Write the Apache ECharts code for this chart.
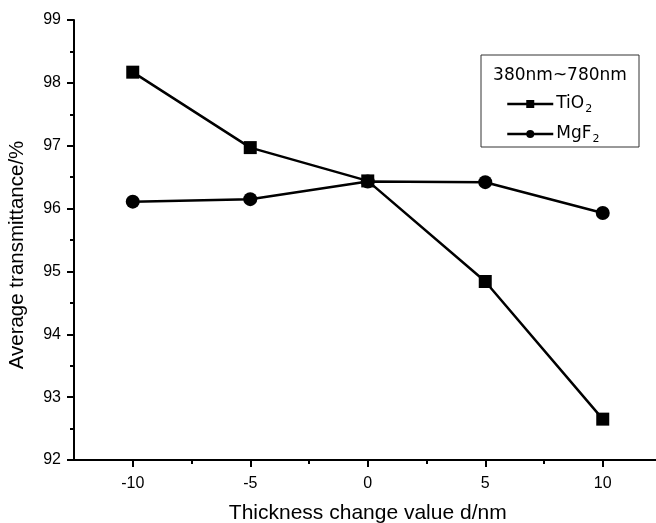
<!DOCTYPE html>
<html>
<head>
<meta charset="utf-8">
<script src="https://cdn.jsdelivr.net/npm/echarts@6/dist/echarts.min.js"></script>
<style>html,body{margin:0;padding:0;background:#fff}#c{width:656px;height:523px}</style>
</head>
<body>
<div id="c"></div>
<script>
const thickness = [-10, -5, 0, 5, 10];
const tio2 = [98.17, 96.97, 96.44, 94.84, 92.65];
const mgf2 = [96.11, 96.15, 96.43, 96.42, 95.93];
const xMajorTicks = [-10, -5, 0, 5, 10];
const xMinorTicks = [-7.5, -2.5, 2.5, 7.5];
const legendTitle = '380nm~780nm';
const seriesNames = ['TiO2', 'MgF2'];

const FONT = '"Liberation Sans", Arial, sans-serif';
const chart = echarts.init(document.getElementById('c'));
const rich = {
  a: {fontSize: 17, fontFamily: '"DejaVu Sans", sans-serif', color: '#000', lineHeight: 22, verticalAlign: 'middle'},
  s: {fontSize: 11, fontFamily: '"DejaVu Sans", sans-serif', color: '#000', lineHeight: 22, verticalAlign: 'bottom', padding: [10, 0, 0, 1]}
};
chart.setOption({
  animation: false,
  backgroundColor: '#fff',
  grid: {left: 74, top: 20, width: 587.5, height: 440, containLabel: false, outerBoundsMode: 'none'},
  xAxis: [{
    type: 'value', min: -12.5, max: 12.5,
    name: 'Thickness change value d/nm', nameLocation: 'middle', nameGap: 43,
    nameTextStyle: {fontSize: 21, fontFamily: FONT, color: '#000'},
    axisLine: {onZero: false, lineStyle: {color: '#000', width: 2}},
    axisTick: {customValues: xMajorTicks, length: 7, lineStyle: {color: '#000', width: 2}},
    axisLabel: {customValues: xMajorTicks, fontSize: 16, fontFamily: FONT, color: '#000', margin: 16},
    splitLine: {show: false}
  }, {
    type: 'value', min: -12.5, max: 12.5, position: 'bottom',
    axisLine: {show: false, onZero: false},
    axisTick: {customValues: xMinorTicks, length: 4, lineStyle: {color: '#000', width: 2}},
    axisLabel: {show: false},
    splitLine: {show: false}
  }],
  yAxis: {
    type: 'value', min: 92, max: 99, interval: 1,
    name: 'Average transmittance/%', nameLocation: 'middle', nameGap: 46,
    nameTextStyle: {fontSize: 20.5, fontFamily: FONT, color: '#000', padding: [0, 30, 0, 0]},
    axisLine: {show: true, onZero: false, lineStyle: {color: '#000', width: 2}},
    axisTick: {show: true, length: 7, lineStyle: {color: '#000', width: 2}},
    minorTick: {show: true, splitNumber: 2, length: 4, lineStyle: {color: '#000', width: 2}},
    axisLabel: {fontSize: 16, fontFamily: FONT, color: '#000', margin: 13},
    splitLine: {show: false}
  },
  legend: {
    orient: 'vertical', left: 501, top: 89, itemWidth: 46, itemHeight: 10, itemGap: 9,
    data: seriesNames,
    lineStyle: {width: 2.5},
    formatter: n => '{a|' + n.slice(0, -1) + '}{s|' + n.slice(-1) + '}',
    textStyle: {rich: rich, padding: [0, 0, 0, -2]}
  },
  graphic: [
    {type: 'rect', shape: {x: 481, y: 55, width: 158, height: 92}, style: {fill: 'none', stroke: '#333', lineWidth: 1}, z: 10},
    {type: 'text', x: 560, y: 76, style: {text: legendTitle, fontSize: 17, fontFamily: '"DejaVu Sans", sans-serif', fill: '#000', align: 'center', verticalAlign: 'middle'}, z: 10}
  ],
  series: [
    {name: seriesNames[1], type: 'line', data: thickness.map((x, i) => [x, mgf2[i]]), symbol: 'circle', symbolSize: 14,
     lineStyle: {color: '#000', width: 2.5}, itemStyle: {color: '#000'}, z: 2},
    {name: seriesNames[0], type: 'line', data: thickness.map((x, i) => [x, tio2[i]]), symbol: 'rect', symbolSize: 13,
     lineStyle: {color: '#000', width: 2.5}, itemStyle: {color: '#000'}, z: 3}
  ]
});
</script>
</body>
</html>
